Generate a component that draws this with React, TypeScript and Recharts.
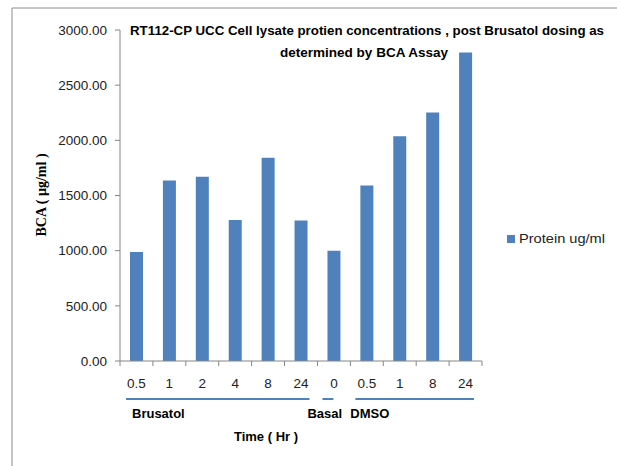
import React from 'react'
import { BarChart, Bar, XAxis, YAxis } from 'recharts'

const timeLabels = ['0.5', '1', '2', '4', '8', '24', '0', '0.5', '1', '8', '24']
const proteinValues = [988, 1636, 1670, 1279, 1842, 1273, 1000, 1591, 2036, 2252, 2797]
const yTicks = [0, 500, 1000, 1500, 2000, 2500, 3000]
const seriesName = 'Protein ug/ml'

// treatment groups: label, first index, last index
const groupNames = ['Brusatol', 'Basal', 'DMSO']
const groupStart = [0, 6, 7]
const groupEnd = [5, 6, 10]

const data = timeLabels.map((t, i) => ({ key: `c${i}`, time: t, protein: proteinValues[i] }))

const W = 617
const H = 466
const PLOT_LEFT = 120
const PLOT_RIGHT = 482
const PLOT_TOP = 30
const PLOT_BOTTOM = 361
const BAND = (PLOT_RIGHT - PLOT_LEFT) / timeLabels.length
const BLUE = '#4F81BD'
const AXIS = '#868686'
const FONT = '"Liberation Sans", Arial, sans-serif'

// line insets / label offsets per group (styling)
const lineInsetL = [6, 5, 5]
const lineInsetR = [8, 17, 8]
const labelShift = [6, -15, -5]

function TimeTick(props: any) {
  const { x, y, payload } = props
  const left = x - BAND / 2
  return (
    <g>
      <line x1={left} y1={y - 8} x2={left} y2={y - 3} stroke={AXIS} />
      {payload.index === timeLabels.length - 1 && (
        <line x1={left + BAND} y1={y - 8} x2={left + BAND} y2={y - 3} stroke={AXIS} />
      )}
      <text x={x} y={y + 19} textAnchor="middle" fontSize={13.5} fill="#222" fontFamily={FONT}>
        {timeLabels[payload.index]}
      </text>
    </g>
  )
}

export default function App() {
  return (
    <div style={{ position: 'fixed', left: 0, top: 0, width: W, height: H, background: '#fff' }}>
      <BarChart
        width={W}
        height={H}
        data={data}
        margin={{ top: PLOT_TOP, right: W - PLOT_RIGHT, bottom: H - PLOT_BOTTOM - 30, left: 0 }}
      >
        <XAxis
          dataKey="key"
          height={30}
          tickLine={false}
          axisLine={{ stroke: AXIS }}
          tick={<TimeTick />}
          interval={0}
        />
        <YAxis
          width={PLOT_LEFT}
          domain={[0, 3000]}
          ticks={yTicks}
          tickFormatter={(v: number) => v.toFixed(2)}
          axisLine={{ stroke: AXIS }}
          tickLine={{ stroke: AXIS }}
          tickSize={5}
          tickMargin={8}
          tick={{ fontSize: 13.5, fill: '#222', fontFamily: FONT }}
          interval={0}
        />
        <Bar dataKey="protein" name={seriesName} fill={BLUE} barSize={13} isAnimationActive={false} />
      </BarChart>
      <svg width={W} height={H} style={{ position: 'absolute', left: 0, top: 0, pointerEvents: 'none' }}>
        <line x1={12} y1={8} x2={W} y2={8} stroke="#8c8c8c" />
        <line x1={12} y1={8} x2={12} y2={H} stroke="#8c8c8c" />
        <text
          x={367}
          y={35}
          textAnchor="middle"
          fontSize={13}
          fontWeight="bold"
          fontFamily={FONT}
          fill="#000"
          textLength={474}
          lengthAdjust="spacingAndGlyphs"
        >
          RT112-CP  UCC Cell lysate  protien  concentrations , post Brusatol dosing as
        </text>
        <text x={364} y={57} textAnchor="middle" fontSize={13} fontWeight="bold" fontFamily={FONT} fill="#000" textLength={168} lengthAdjust="spacingAndGlyphs">
          determined by BCA Assay
        </text>
        <text
          transform="translate(46,195) rotate(-90)"
          textAnchor="middle"
          fontSize={14}
          fontWeight="bold"
          fontFamily='"Liberation Serif", "Times New Roman", serif'
          fill="#000"
        >
          BCA ( µg/ml )
        </text>
        <rect x={507} y={235} width={8} height={8} fill={BLUE} />
        <text x={519} y={243} fontSize={13} fontFamily={FONT} fill="#222" textLength={86} lengthAdjust="spacingAndGlyphs">
          {seriesName}
        </text>
        {groupNames.map((g, i) => {
          const x1 = PLOT_LEFT + BAND * groupStart[i] + lineInsetL[i]
          const x2 = PLOT_LEFT + BAND * (groupEnd[i] + 1) - lineInsetR[i]
          return (
            <g key={g}>
              <line x1={x1} y1={399} x2={x2} y2={399} stroke={BLUE} strokeWidth={2} />
              <text x={x1 + labelShift[i]} y={418} fontSize={13} fontWeight="bold" fontFamily={FONT} fill="#000">
                {g}
              </text>
            </g>
          )
        })}
        <text x={266} y={441} textAnchor="middle" fontSize={13} fontWeight="bold" fontFamily={FONT} fill="#000">
          Time ( Hr )
        </text>
      </svg>
    </div>
  )
}
